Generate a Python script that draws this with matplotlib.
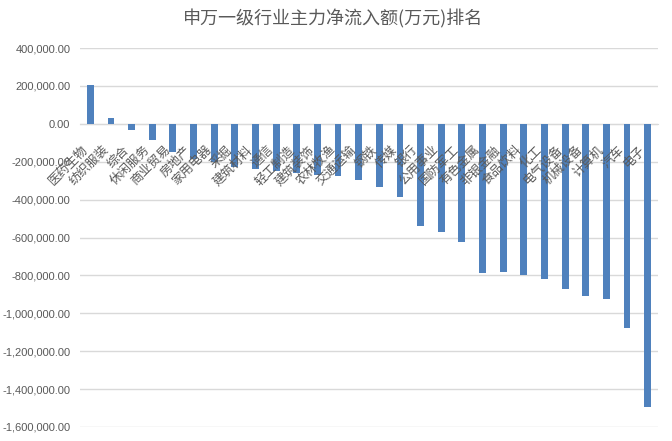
import matplotlib
matplotlib.use("Agg")
import matplotlib.pyplot as plt
from matplotlib.ticker import FuncFormatter

# 申万一级行业 主力净流入额 (万元)
industries = [
    "医药生物", "纺织服装", "综合", "休闲服务", "商业贸易", "房地产", "家用电器",
    "采掘", "建筑材料", "通信", "轻工制造", "建筑装饰", "农林牧渔", "交通运输",
    "钢铁", "传媒", "银行", "公用事业", "国防军工", "有色金属", "非银金融",
    "食品饮料", "化工", "电气设备", "机械设备", "计算机", "汽车", "电子",
]
net_inflow = [
    203000, 33000, -34000, -83000, -151000, -186000, -204000,
    -230000, -236000, -251000, -262000, -269000, -278000, -295000,
    -331000, -384000, -539000, -571000, -623000, -786000, -784000,
    -797000, -818000, -871000, -907000, -923000, -1076000, -1497000,
]
y_ticks = list(range(400000, -1600001, -200000))

plt.rcParams["font.family"] = ["Noto Sans CJK SC", "DejaVu Sans"]
text_color = "#595959"

fig = plt.figure(figsize=(6.72, 4.41), dpi=100)
ax = fig.add_axes([80 / 672, 1 - 427 / 441, 578 / 672, (427 - 48) / 441])

x = range(len(industries))
ax.bar(x, net_inflow, width=0.33, color="#4F81BD", zorder=3)

ax.set_xlim(-0.5, len(industries) - 0.5)
ax.set_ylim(-1600000, 400000)
ax.set_yticks(y_ticks)
ax.yaxis.set_major_formatter(FuncFormatter(lambda v, p: f"{v:,.2f}"))
for lab in ax.get_yticklabels():
    lab.set_fontfamily("Liberation Sans")
    lab.set_fontsize(8)
    lab.set_color(text_color)
ax.tick_params(axis="y", length=0, pad=7)

ax.grid(axis="y", color="#D9D9D9", linewidth=1, zorder=0)
for s in ["top", "right", "left"]:
    ax.spines[s].set_visible(False)
ax.spines["bottom"].set_position(("data", 0))
ax.spines["bottom"].set_color("#D9D9D9")
ax.spines["bottom"].set_zorder(1)

# category labels sit at the zero line, drawn over the bars
ax.set_xticks(list(x))
ax.set_xticklabels(industries, rotation=45, ha="right", va="top",
                   fontsize=9, color=text_color)
ax.tick_params(axis="x", length=0, pad=14)
ax.xaxis.set_zorder(4)

fig.text(0.496, 0.958, "申万一级行业主力净流入额(万元)排名", ha="center", va="center",
         fontsize=13, color=text_color)

fig.savefig("out.png", dpi=100)
